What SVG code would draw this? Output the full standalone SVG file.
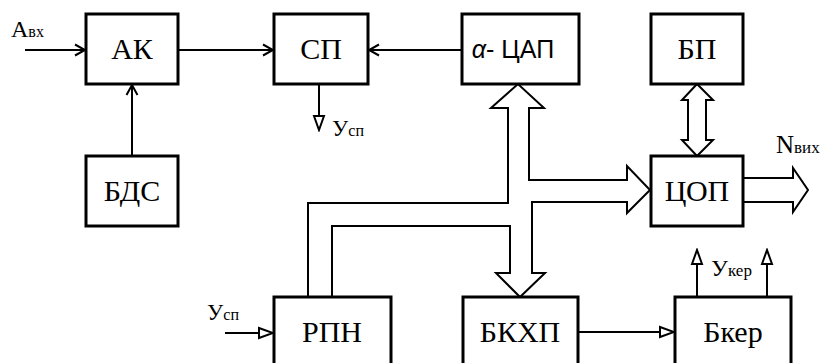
<svg xmlns="http://www.w3.org/2000/svg" width="827" height="363" viewBox="0 0 827 363">
<defs>
<style>
.box{fill:#fff;stroke:#000;stroke-width:3}
.lbl{font-family:'Liberation Serif','DejaVu Serif',serif;font-size:30px;fill:#000;text-anchor:middle}
.sans{font-family:'Liberation Sans','DejaVu Sans',sans-serif;font-size:25px;fill:#000;text-anchor:middle}
.sig{font-family:'Liberation Serif','DejaVu Serif',serif;font-size:23px;fill:#000}
.sub{font-size:16px}
.ln{fill:none;stroke:#000;stroke-width:2}
.wide{fill:#fff;stroke:#000;stroke-width:2;stroke-linejoin:miter}
</style>
<marker id="chev" markerUnits="userSpaceOnUse" markerWidth="14" markerHeight="14" viewBox="0 0 14 14" refX="12" refY="7" orient="auto">
<path d="M2,1.5 L12,7 L2,12.5" fill="none" stroke="#000" stroke-width="2"/>
</marker>
<marker id="tri" markerUnits="userSpaceOnUse" markerWidth="18" markerHeight="14" viewBox="0 0 18 14" refX="16" refY="7" orient="auto">
<path d="M2,2 L16,7 L2,12 Z" fill="#fff" stroke="#000" stroke-width="2"/>
</marker>
</defs>

<g id="connectors">
<line class="ln" x1="25" y1="50" x2="85" y2="50" marker-end="url(#chev)"/>
<line class="ln" x1="178" y1="50" x2="273" y2="50" marker-end="url(#chev)"/>
<line class="ln" x1="462" y1="50" x2="369" y2="50" marker-end="url(#chev)"/>
<line class="ln" x1="132" y1="156" x2="132" y2="85" marker-end="url(#chev)"/>
<line class="ln" x1="319" y1="84" x2="319" y2="130" marker-end="url(#tri)"/>
<line class="ln" x1="225" y1="333" x2="273" y2="333" marker-end="url(#tri)"/>
<line class="ln" x1="578" y1="332" x2="674" y2="332" marker-end="url(#tri)"/>
<line class="ln" x1="697" y1="297" x2="697" y2="250" marker-end="url(#tri)"/>
<line class="ln" x1="767" y1="297" x2="767" y2="250" marker-end="url(#tri)"/>
<path class="wide" d="M308,297 L308,203 L508,203 L508,108 L491,108 L518,84 L544,108 L529,108 L529,180 L627,180 L627,166 L650,190 L627,213 L627,202 L532,202 L532,273 L545,273 L520,297 L496,273 L510,273 L510,226 L332,226 L332,297"/>
<path class="wide" d="M697,84 L713,100 L706,100 L706,140 L713,140 L697,156 L682,140 L688,140 L688,100 L682,100 Z"/>
<path class="wide" d="M743,178 L793,178 L793,168 L808,190 L793,212 L793,202 L743,202"/>
</g>

<g id="AK"><rect class="box" x="86" y="14" width="92" height="70"/><text class="lbl" x="132" y="59">АК</text></g>
<g id="SP"><rect class="box" x="274" y="14" width="94" height="70"/><text class="lbl" x="321" y="59">СП</text></g>
<g id="CAP"><rect class="box" x="462" y="14" width="117" height="70"/><text class="sans" x="513" y="58"><tspan font-style="italic">α</tspan>- ЦАП</text></g>
<g id="BP"><rect class="box" x="651" y="14" width="92" height="70"/><text class="lbl" x="697" y="59">БП</text></g>
<g id="BDS"><rect class="box" x="86" y="156" width="92" height="70"/><text class="lbl" x="132" y="201">БДС</text></g>
<g id="COP"><rect class="box" x="651" y="156" width="92" height="70"/><text class="lbl" x="697" y="201">ЦОП</text></g>
<g id="RPN"><rect class="box" x="274" y="297" width="117" height="80"/><text class="lbl" x="332" y="342">РПН</text></g>
<g id="BKHP"><rect class="box" x="463" y="297" width="115" height="80"/><text class="lbl" x="520" y="342">БКХП</text></g>
<g id="Bker"><rect class="box" x="675" y="297" width="116" height="80"/><text class="lbl" x="733" y="342">Бкер</text></g>

<g id="labels">
<text class="sig" x="11" y="37" style="font-size:24px">A<tspan class="sub">вх</tspan></text>
<text class="sig" x="332" y="136">У<tspan class="sub">сп</tspan></text>
<text class="sig" x="207" y="320">У<tspan class="sub">сп</tspan></text>
<text class="sig" x="776" y="153" style="font-size:25px">N<tspan class="sub" style="font-size:17px">вих</tspan></text>
<text class="sig" x="711" y="276" style="font-size:24px">У<tspan class="sub" style="font-size:17px">кер</tspan></text>
</g>
</svg>
